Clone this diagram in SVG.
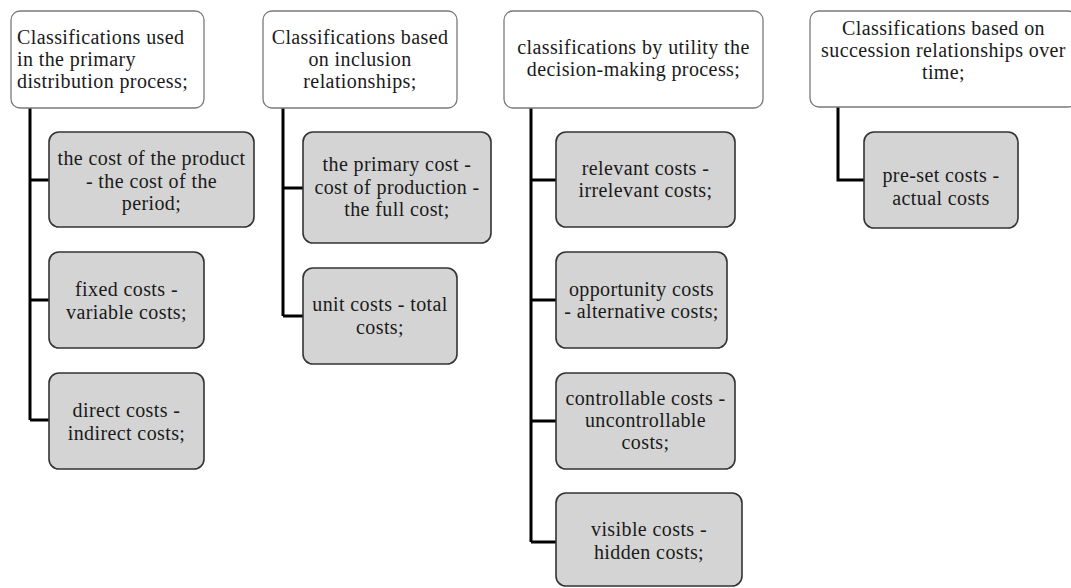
<svg xmlns="http://www.w3.org/2000/svg" width="1071" height="588" viewBox="0 0 1071 588">
<style>
.hdr{fill:#ffffff;stroke:#7a7a7a;stroke-width:1.3}
.box{fill:#d4d4d4;stroke:#333333;stroke-width:1.6}
.t{font-family:"Liberation Serif","Times New Roman",serif;font-size:20px;letter-spacing:0.4px;fill:#1a1a1a}
.c{text-anchor:middle}
.conn{fill:none;stroke:#000000;stroke-width:3}
</style>
<rect width="1071" height="588" fill="#ffffff"/>
<g id="connectors">
<path class="conn" d="M30,108 V420 M30,180 H49 M30,300 H49 M30,420 H49"/>
<path class="conn" d="M283,108 V316 M283,188 H303 M283,316 H303"/>
<path class="conn" d="M531,108 V542 M531,180 H556 M531,300 H556 M531,421 H556 M531,542 H556"/>
<path class="conn" d="M838,107 V180 H864"/>
</g>
<g id="h1">
<rect class="hdr" x="11" y="11" width="193" height="97" rx="9"/>
<text class="t" x="17" y="43.7">Classifications used</text>
<text class="t" x="17" y="66">in the primary</text>
<text class="t" x="17" y="88.3">distribution process;</text>
</g>
<g id="h2">
<rect class="hdr" x="263" y="11" width="194" height="97" rx="9"/>
<text class="t c" x="360" y="43.7">Classifications based</text>
<text class="t c" x="360" y="66">on inclusion</text>
<text class="t c" x="360" y="88.3">relationships;</text>
</g>
<g id="h3">
<rect class="hdr" x="504" y="11" width="259" height="97" rx="9"/>
<text class="t c" x="633.5" y="53.85">classifications by utility the</text>
<text class="t c" x="633.5" y="76.15">decision-making process;</text>
</g>
<g id="h4">
<rect class="hdr" x="810" y="11" width="267" height="96" rx="9"/>
<text class="t c" x="943.5" y="34.7">Classifications based on</text>
<text class="t c" x="943.5" y="57">succession relationships over</text>
<text class="t c" x="943.5" y="79.3">time;</text>
</g>
<g id="b1a">
<rect class="box" x="49" y="132" width="205" height="95" rx="10"/>
<text class="t c" x="151.5" y="165.2">the cost of the product</text>
<text class="t c" x="151.5" y="187.5">- the cost of the</text>
<text class="t c" x="151.5" y="209.8">period;</text>
</g>
<g id="b1b">
<rect class="box" x="49" y="252" width="155" height="96" rx="10"/>
<text class="t c" x="126.5" y="296.35">fixed costs -</text>
<text class="t c" x="126.5" y="318.65">variable costs;</text>
</g>
<g id="b1c">
<rect class="box" x="49" y="373" width="155" height="96" rx="10"/>
<text class="t c" x="126.5" y="417.35">direct costs -</text>
<text class="t c" x="126.5" y="439.65">indirect costs;</text>
</g>
<g id="b2a">
<rect class="box" x="303" y="132" width="188" height="111" rx="10"/>
<text class="t c" x="397" y="171.2">the primary cost -</text>
<text class="t c" x="397" y="193.5">cost of production -</text>
<text class="t c" x="397" y="215.8">the full cost;</text>
</g>
<g id="b2b">
<rect class="box" x="303" y="268" width="154" height="96" rx="10"/>
<text class="t c" x="380" y="311.35">unit costs - total</text>
<text class="t c" x="380" y="333.65">costs;</text>
</g>
<g id="b3a">
<rect class="box" x="556" y="132" width="179" height="95" rx="10"/>
<text class="t c" x="645.5" y="174.85">relevant costs -</text>
<text class="t c" x="645.5" y="197.15">irrelevant costs;</text>
</g>
<g id="b3b">
<rect class="box" x="556" y="252" width="171" height="96" rx="10"/>
<text class="t c" x="641.5" y="295.85">opportunity costs</text>
<text class="t c" x="641.5" y="318.15">- alternative costs;</text>
</g>
<g id="b3c">
<rect class="box" x="556" y="373" width="179" height="96" rx="10"/>
<text class="t c" x="645.5" y="404.7">controllable costs -</text>
<text class="t c" x="645.5" y="427">uncontrollable</text>
<text class="t c" x="645.5" y="449.3">costs;</text>
</g>
<g id="b3d">
<rect class="box" x="556" y="493" width="186" height="93" rx="10"/>
<text class="t c" x="649" y="536.35">visible costs -</text>
<text class="t c" x="649" y="558.65">hidden costs;</text>
</g>
<g id="b4a">
<rect class="box" x="864" y="132" width="154" height="96" rx="10"/>
<text class="t c" x="941" y="182.35">pre-set costs -</text>
<text class="t c" x="941" y="204.65">actual costs</text>
</g>
</svg>
